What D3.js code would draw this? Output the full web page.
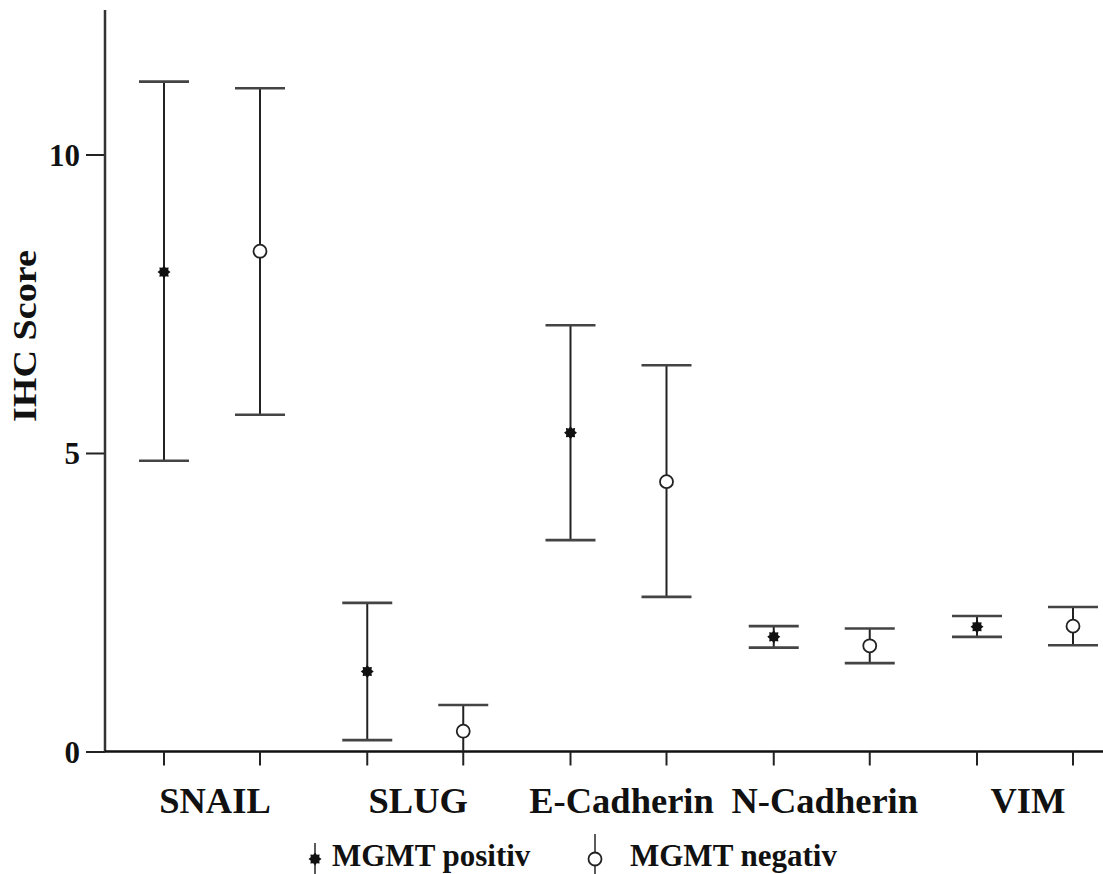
<!DOCTYPE html>
<html>
<head>
<meta charset="utf-8">
<script src="https://cdn.jsdelivr.net/npm/d3@7"></script>
<style>
  body { margin: 0; background: #fff; }
  text { font-family: 'Liberation Serif', 'Times New Roman', serif; fill: #111; }
</style>
</head>
<body>
<svg id="canvas" width="1103" height="874"></svg>
<script>
// values (mean with error bar ends)
let categories = ['SNAIL', 'SLUG', 'E-Cadherin', 'N-Cadherin', 'VIM']
let groups = ['MGMT positiv', 'MGMT negativ']

let positivMean = [8.03, 1.34, 5.34, 1.92, 2.09]
let positivLow = [4.87, 0.19, 3.54, 1.74, 1.92]
let positivHigh = [11.22, 2.49, 7.14, 2.10, 2.27]

let negativMean = [8.38, 0.34, 4.52, 1.77, 2.10]
let negativLow = [5.64, -0.10, 2.59, 1.48, 1.78]
let negativHigh = [11.11, 0.78, 6.47, 2.06, 2.42]

let yTicks = [0, 5, 10]

let canvas = d3.select('#canvas')

let xAxisY = 751.5
let yAxisX = 105

let xScale = d3.scalePoint()
    .domain(categories)
    .range([212, 1025])

let groupScale = d3.scalePoint()
    .domain(groups)
    .range([-48, 48])

let yScale = d3.scaleLinear()
    .domain([0, 12.42])
    .range([xAxisY, 10])

let rows = []
categories.forEach((cat, i) => {
    rows.push({cat: cat, group: groups[0], mean: positivMean[i], low: positivLow[i], high: positivHigh[i]})
    rows.push({cat: cat, group: groups[1], mean: negativMean[i], low: negativLow[i], high: negativHigh[i]})
})

let xOf = (d) => xScale(d.cat) + groupScale(d.group)

// 8 point star used for the positive group
let starPoints = d3.range(16).map((i) => [i * Math.PI / 8, i % 2 === 0 ? 6.5 : 4.6])
let starPath = d3.lineRadial().curve(d3.curveLinearClosed)(starPoints)

let drawMarker = (sel, group) => {
    if (group === groups[0]) {
        sel.append('path')
            .attr('d', starPath)
            .attr('fill', '#111')
    } else {
        sel.append('circle')
            .attr('r', 6.5)
            .attr('fill', '#fff')
            .attr('stroke', '#222')
            .attr('stroke-width', 1.8)
    }
}

let drawChart = () => {

    canvas.append('defs').append('clipPath')
        .attr('id', 'plotclip')
        .append('rect')
        .attr('x', yAxisX)
        .attr('y', 0)
        .attr('width', 1103 - yAxisX)
        .attr('height', xAxisY)

    // y axis
    let yAxis = d3.axisLeft(yScale)
        .tickValues(yTicks)
        .tickSize(19)
        .tickPadding(6)
        .tickFormat(d3.format('d'))

    let gy = canvas.append('g')
        .attr('transform', 'translate(' + yAxisX + ',0)')
        .call(yAxis)
    gy.select('.domain').remove()
    gy.selectAll('line').attr('stroke', '#222').attr('stroke-width', 2)
    gy.selectAll('text')
        .style('font-size', '31px')
        .style('font-family', "'Liberation Serif', serif")
        .style('font-weight', '600')
        .attr('fill', '#111')
        .attr('dy', '0.34em')

    canvas.append('line')
        .attr('x1', yAxisX).attr('x2', yAxisX)
        .attr('y1', yScale.range()[1]).attr('y2', xAxisY)
        .attr('stroke', '#333')
        .attr('stroke-width', 2.5)

    // x axis with a tick under each group
    canvas.append('line')
        .attr('x1', yAxisX).attr('x2', 1103)
        .attr('y1', xAxisY).attr('y2', xAxisY)
        .attr('stroke', '#111')
        .attr('stroke-width', 2.5)

    canvas.selectAll('.xtick')
        .data(rows)
        .enter()
        .append('line')
        .attr('class', 'xtick')
        .attr('x1', xOf).attr('x2', xOf)
        .attr('y1', xAxisY).attr('y2', xAxisY + 14)
        .attr('stroke', '#222')
        .attr('stroke-width', 2)

    canvas.selectAll('.xlabel')
        .data(categories)
        .enter()
        .append('text')
        .attr('class', 'xlabel')
        .attr('x', (d) => xScale(d) + 3)
        .attr('y', 813)
        .attr('text-anchor', 'middle')
        .style('font-size', '36.5px')
        .style('font-weight', 'bold')
        .text((d) => d)

    // y axis title
    canvas.append('text')
        .attr('transform', 'translate(36,336) rotate(-90)')
        .attr('text-anchor', 'middle')
        .attr('textLength', 172)
        .attr('lengthAdjust', 'spacingAndGlyphs')
        .style('font-size', '33px')
        .style('font-weight', 'bold')
        .text('IHC Score')

    // error bars
    let bars = canvas.append('g')
        .attr('clip-path', 'url(#plotclip)')
        .selectAll('g')
        .data(rows)
        .enter()
        .append('g')

    bars.append('line')
        .attr('x1', xOf).attr('x2', xOf)
        .attr('y1', (d) => yScale(d.high))
        .attr('y2', (d) => yScale(d.low))
        .attr('stroke', '#222')
        .attr('stroke-width', 2)

    let capW = 25
    ;['high', 'low'].forEach((key) => {
        bars.append('line')
            .attr('x1', (d) => xOf(d) - capW)
            .attr('x2', (d) => xOf(d) + capW)
            .attr('y1', (d) => yScale(d[key]))
            .attr('y2', (d) => yScale(d[key]))
            .attr('stroke', '#444')
            .attr('stroke-width', 2.6)
    })

    bars.each(function (d) {
        let g = d3.select(this).append('g')
            .attr('transform', 'translate(' + xOf(d) + ',' + yScale(d.mean) + ')')
        drawMarker(g, d.group)
    })

    // legend
    let legendItems = [
        {group: groups[0], mx: 315, tx: 332},
        {group: groups[1], mx: 595, tx: 630}
    ]
    let legend = canvas.selectAll('.legend')
        .data(legendItems)
        .enter()
        .append('g')
        .attr('class', 'legend')

    legend.append('line')
        .attr('x1', (d) => d.mx).attr('x2', (d) => d.mx)
        .attr('y1', (d) => d.group === groups[0] ? 843 : 834)
        .attr('y2', 874)
        .attr('stroke', '#333')
        .attr('stroke-width', 1.6)

    legend.each(function (d) {
        let g = d3.select(this).append('g')
            .attr('transform', 'translate(' + d.mx + ',859)')
        drawMarker(g, d.group)
    })

    legend.append('text')
        .attr('x', (d) => d.tx)
        .attr('y', 866)
        .style('font-size', '31px')
        .style('font-weight', 'bold')
        .text((d) => d.group)
}

drawChart()
</script>
</body>
</html>
